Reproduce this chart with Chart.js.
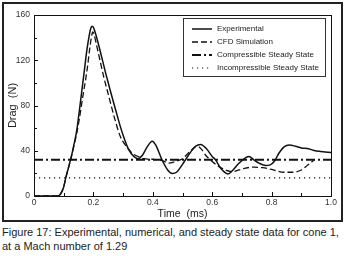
<!DOCTYPE html>
<html>
<head>
<meta charset="utf-8">
<script src="https://cdn.jsdelivr.net/npm/chart.js@4.4.1/dist/chart.umd.min.js"></script>
<style>
html,body{margin:0;padding:0;background:#fff;width:351px;height:258px;overflow:hidden;}
#frame{position:absolute;left:2px;top:2px;width:341px;height:220px;box-sizing:border-box;border:2px solid #222;}
#wrap{position:absolute;left:0;top:0;width:351px;height:224px;}
#cap{position:absolute;left:2px;top:225px;font:11px "Liberation Sans",Arial,sans-serif;line-height:14px;color:#222;white-space:nowrap;}
</style>
</head>
<body>
<div id="frame"></div>
<div id="wrap"><canvas id="c" width="351" height="224"></canvas></div>
<div id="cap">Figure 17: Experimental, numerical, and steady state data for cone 1,<br>at a Mach number of 1.29</div>
<script>
// Data
const seriesLabels = ["Experimental", "CFD Simulation", "Compressible Steady State", "Incompressible Steady State"];
const xTickLabels = ["0", "0.2", "0.4", "0.6", "0.8", "1.0"];
const yTickLabels = ["0", "40", "80", "120", "160"];

const expTime = [0, 0.06, 0.08, 0.09, 0.1, 0.107, 0.116, 0.125, 0.135, 0.144, 0.152, 0.161, 0.17, 0.178, 0.186, 0.192, 0.196, 0.2, 0.21, 0.223, 0.24, 0.257, 0.275, 0.29, 0.305, 0.319, 0.336, 0.35, 0.365, 0.38, 0.398, 0.41, 0.431, 0.45, 0.465, 0.48, 0.5, 0.52, 0.544, 0.561, 0.58, 0.6, 0.611, 0.63, 0.653, 0.67, 0.69, 0.713, 0.724, 0.74, 0.758, 0.78, 0.795, 0.81, 0.825, 0.842, 0.86, 0.88, 0.9, 0.92, 0.94, 0.96, 0.98, 1.0];
const expDrag = [0, 0, 0, 2, 8, 16, 25, 34, 46, 58, 74, 93, 112, 129, 142, 149, 150, 149, 141, 128, 110, 93, 76, 62, 50, 41, 35, 33, 36, 43, 48.5, 45, 32, 23, 20, 21, 28, 36, 44, 45.5, 42, 35, 32, 24, 19.5, 23, 29, 34, 35, 32, 29, 27, 27.5, 31, 38, 43.5, 45, 44, 42.5, 42, 40.5, 39.5, 39, 38.5];

const cfdTime = [0, 0.08, 0.09, 0.1, 0.107, 0.116, 0.125, 0.135, 0.145, 0.155, 0.165, 0.172, 0.18, 0.187, 0.193, 0.198, 0.203, 0.21, 0.217, 0.235, 0.25, 0.27, 0.29, 0.305, 0.313, 0.33, 0.35, 0.37, 0.4, 0.43, 0.455, 0.475, 0.5, 0.52, 0.55, 0.565, 0.578, 0.6, 0.623, 0.645, 0.668, 0.69, 0.713, 0.74, 0.77, 0.8, 0.842, 0.87, 0.9, 0.92, 0.944];
const cfdDrag = [0, 0, 2, 8, 16, 25, 34, 45, 57, 72, 89, 100, 114, 129, 140, 145, 142, 134, 126, 105, 90, 70, 53, 46, 43, 38, 35, 33, 32.5, 31.5, 29, 30.5, 33, 38, 44, 41, 36, 30.5, 26, 23, 21.5, 23, 24.7, 25.5, 25, 23.5, 21, 21, 23, 27, 32];

const steadyTime = [0, 1.0];
const compressibleDrag = [32, 32];
const incompressibleDrag = [16, 16];

function pts(xs, ys){ return xs.map((x,i)=>({x:x, y:ys[i]})); }

const dashes = [[], [6,3], [9,3,2,3], [1.2,3.8]];
const widths = [1.5, 1.3, 2, 1.2];

const framePlugin = {
  id: 'frameTicks',
  afterDatasetsDraw(chart){
    const ctx = chart.ctx, a = chart.chartArea;
    const xs = chart.scales.x, ys = chart.scales.y;
    ctx.save();
    ctx.strokeStyle = '#111'; ctx.lineWidth = 1; ctx.setLineDash([]);
    ctx.strokeRect(Math.round(a.left)+0.5, Math.round(a.top)+0.5, Math.round(a.right-a.left), Math.round(a.bottom-a.top));
    ctx.beginPath();
    const xt = xs.ticks.map(t=>t.value);
    xt.forEach((v,i)=>{
      const p = Math.round(xs.getPixelForValue(v))+0.5;
      ctx.moveTo(p, a.bottom); ctx.lineTo(p, a.bottom-4);
      if(i<xt.length-1){
        const m = Math.round(xs.getPixelForValue((v+xt[i+1])/2))+0.5;
        ctx.moveTo(m, a.bottom); ctx.lineTo(m, a.bottom-3);
      }
    });
    const yt = ys.ticks.map(t=>t.value);
    yt.forEach((v,i)=>{
      const p = Math.round(ys.getPixelForValue(v))+0.5;
      ctx.moveTo(a.left, p); ctx.lineTo(a.left+4, p);
      if(i<yt.length-1){
        const m = Math.round(ys.getPixelForValue((v+yt[i+1])/2))+0.5;
        ctx.moveTo(a.left, m); ctx.lineTo(a.left+3, m);
      }
    });
    ctx.stroke();
    // legend box
    const bx = 183.5, by = 18.5, bw = 142, bh = 58;
    ctx.fillStyle = '#fff';
    ctx.fillRect(bx, by, bw, bh);
    ctx.strokeStyle = '#333'; ctx.lineWidth = 1;
    ctx.strokeRect(bx, by, bw, bh);
    ctx.font = '8px "Liberation Sans", Arial, sans-serif';
    ctx.textBaseline = 'middle';
    chart.data.datasets.forEach((ds,i)=>{
      const y = 29 + i*13;
      ctx.strokeStyle = '#111';
      ctx.lineWidth = ds.borderWidth;
      ctx.setLineDash(ds.borderDash || []);
      ctx.beginPath(); ctx.moveTo(192, y); ctx.lineTo(212, y); ctx.stroke();
      ctx.setLineDash([]);
      ctx.fillStyle = '#222';
      ctx.fillText(ds.label, 217, y);
    });
    ctx.restore();
  }
};

new Chart(document.getElementById('c'), {
  type: 'line',
  data: {
    datasets: [
      {label: seriesLabels[0], data: pts(expTime, expDrag)},
      {label: seriesLabels[1], data: pts(cfdTime, cfdDrag)},
      {label: seriesLabels[2], data: pts(steadyTime, compressibleDrag)},
      {label: seriesLabels[3], data: pts(steadyTime, incompressibleDrag)}
    ].map((d,i)=>Object.assign(d, {
      borderColor: '#111', borderWidth: widths[i], borderDash: dashes[i],
      pointRadius: 0, fill: false, cubicInterpolationMode: 'monotone'
    }))
  },
  options: {
    responsive: false, animation: false,
    layout: {padding: {top: 15, right: 20, left: 0, bottom: 0}},
    plugins: {legend: {display: false}, tooltip: {enabled: false}},
    scales: {
      x: {
        type: 'linear', min: 0, max: 1,
        grid: {display: false, drawTicks: false}, border: {display: false},
        ticks: {stepSize: 0.2, padding: 2, color: '#333', font: {family: '"Liberation Sans", Arial, sans-serif', size: 8.5},
          callback: (v, i) => xTickLabels[i]},
        title: {display: true, text: 'Time  (ms)', color: '#222', padding: {top: 0, bottom: 4}, font: {family: '"Liberation Sans", Arial, sans-serif', size: 10.5}},
        afterFit: s => { s.height = 28; }
      },
      y: {
        min: 0, max: 160,
        grid: {display: false, drawTicks: false}, border: {display: false},
        ticks: {stepSize: 40, padding: 4, color: '#333', font: {family: '"Liberation Sans", Arial, sans-serif', size: 8.5},
          callback: (v, i) => yTickLabels[i]},
        title: {display: true, text: 'Drag  (N)', color: '#222', padding: {top: 6, bottom: 0}, font: {family: '"Liberation Sans", Arial, sans-serif', size: 11}},
        afterFit: s => { s.width = 34; }
      }
    }
  },
  plugins: [framePlugin]
});
</script>
</body>
</html>
